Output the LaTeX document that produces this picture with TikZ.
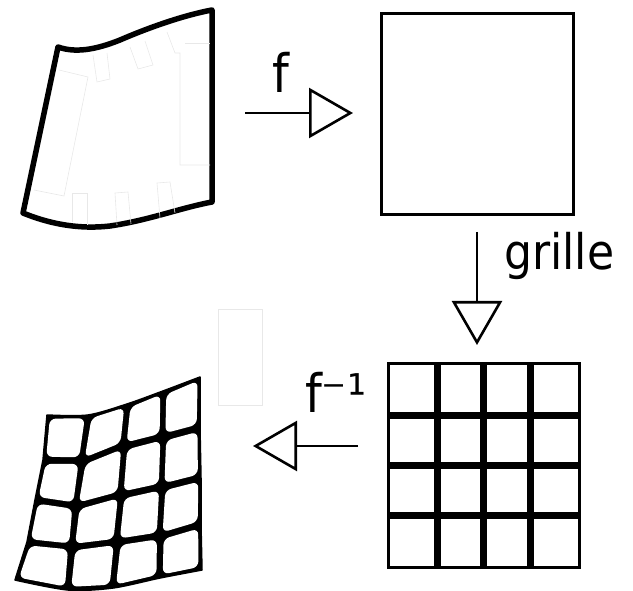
\documentclass[tikz,border=0pt]{standalone}
\usepackage{fontspec}
\setmainfont{DejaVu Sans Condensed}
\usetikzlibrary{arrows.meta,calc}
\begin{document}
\begin{tikzpicture}[x=1pt,y=-1pt,
  conn/.style={line width=2.6pt,-{Triangle[open,length=44pt,width=50pt,line width=2.6pt]}},
  faint/.style={draw=black!9,line width=0.6pt},
  lbl/.style={inner sep=0pt},
  bigtxt/.style={lbl,font=\fontsize{53}{53}\selectfont},
  midtxt/.style={lbl,font=\fontsize{49}{49}\selectfont},
  thick edge/.style={line width=5.5pt,line join=round},
  gridline/.style={line width=7pt}]
\useasboundingbox (0,0) rectangle (633,591);

% ---------- top-left warped shape ----------
\draw[thick edge] (58,47) .. controls (75,53) and (95,50) .. (120,40)
  .. controls (150,27) and (185,15) .. (212,10) -- (212,202)
  .. controls (180,208) and (150,220) .. (110,226)
  .. controls (75,230) and (45,222) .. (23,213) -- cycle;
% faint traces inside
\draw[faint] (59,70) -- (88,77) -- (64,196) -- (34,190);
\draw[faint] (93,55) -- (97,82) -- (110,79) -- (107,53);
\draw[faint] (130,47) -- (138,69) -- (153,65) -- (145,41);
\draw[faint] (167,32) -- (175,53) -- (180,53) -- (180,165) -- (210,165);
\draw[faint] (185,43) -- (210,43);
\draw[faint] (72,222) -- (72,193) -- (87,193) -- (87,225);
\draw[faint] (117,225) -- (115,193) -- (128,192) -- (131,224);
\draw[faint] (160,218) -- (157,183) -- (170,182) -- (175,213);
\draw[faint] (218,309) rectangle (262,405);

% ---------- top-right square ----------
\node[draw,line width=3pt,minimum width=192pt,minimum height=201pt,inner sep=0pt] (sq) at (477,114.5) {};

% ---------- bottom-right grid ----------
\node[draw,line width=3pt,minimum width=191pt,minimum height=203pt,inner sep=0pt] (grid) at (483.5,465.5) {};
\foreach \gx in {437.5,483.5,530} \draw[gridline] (\gx,364) -- (\gx,567);
\foreach \gy in {415.5,465.5,515} \draw[gridline] (388,\gy) -- (579,\gy);

% ---------- bottom-left warped grid ----------
\foreach \i/\j/\px/\py in {
  0/0/47/415, 0/1/43/460, 0/2/35/500, 0/3/27/542, 0/4/15/580,
  1/0/88/415, 1/1/82/461, 1/2/76/506, 1/3/72/547, 1/4/68/590,
  2/0/127/404, 2/1/124/446, 2/2/121/495, 2/3/117/542, 2/4/113/588,
  3/0/163/391, 3/1/163/437, 3/2/162/487, 3/3/160/536, 3/4/160/578,
  4/0/200/377, 4/1/200/428, 4/2/201/478, 4/3/201/525, 4/4/202/570}
  \coordinate (p\i\j) at (\px,\py);
\filldraw[line width=1.5pt,line join=round]
  plot[smooth] coordinates {(p00) (p10) (p20) (p30) (p40)}
  -- (p41) -- (p42) -- (p43) -- (p44)
  -- plot[smooth] coordinates {(p44) (p34) (p24) (p14) (p04)}
  -- (p03) -- (p02) -- (p01) -- cycle;
\foreach \i in {0,1,2,3}{
  \foreach \j in {0,1,2,3}{
    \pgfmathtruncatemacro\ii{\i+1}
    \pgfmathtruncatemacro\jj{\j+1}
    \fill[white,rounded corners=6pt]
      ($(p\i\j)!4.6pt!(p\ii\jj)$) -- ($(p\ii\j)!4.6pt!(p\i\jj)$)
      -- ($(p\ii\jj)!4.6pt!(p\i\j)$) -- ($(p\i\jj)!4.6pt!(p\ii\j)$) -- cycle;
  }
}

% ---------- connectors ----------
\coordinate (a1s) at (245,113);
\coordinate (a1e) at (353,113);
\coordinate (a2s) at (477,232);
\coordinate (a2e) at (477,345);
\coordinate (a3s) at (358,446);
\coordinate (a3e) at (253,446);
\draw[conn] (a1s) -- (a1e);
\draw[conn] (a2s) -- (a2e);
\draw[conn] (a3s) -- (a3e);

% ---------- labels ----------
\node[bigtxt,anchor=base west] (lf) at (272,93) {f};
\node[midtxt,anchor=base west] (lg) at (504,270) {grille};
\node[bigtxt,anchor=base west] (lfi) at (305,413) {f⁻¹};
\end{tikzpicture}
\end{document}
